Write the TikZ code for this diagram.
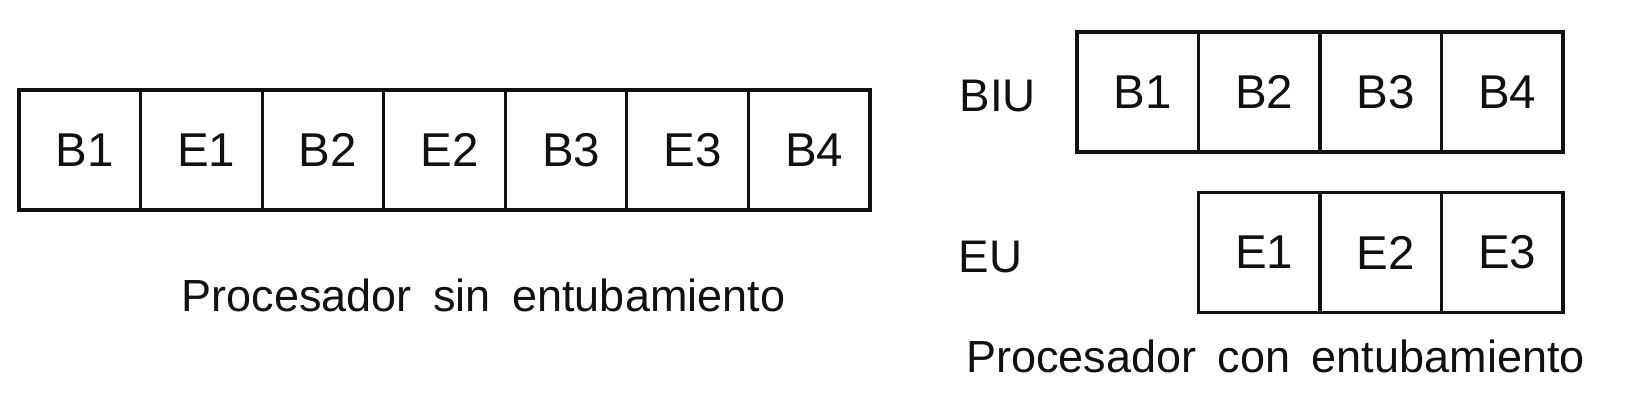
\documentclass[tikz,border=0pt]{standalone}
\usepackage{tikz}
\usetikzlibrary{positioning,calc}
\usepackage{fontspec}
\setmainfont{Liberation Sans}
\usepackage{xcolor}
\definecolor{pipeInk}{HTML}{111111}
\tikzset{
  celda/.style={draw=pipeInk, line width=0.9pt, minimum width=1.2157cm, minimum height=1.2cm, inner sep=0pt, font=\fontsize{13.5}{16}\selectfont, text=pipeInk, execute at begin node=\hspace*{0.1cm}},
  unidad/.style={anchor=west, inner sep=0pt, font=\fontsize{13}{16}\selectfont, text=pipeInk},
  titulo/.style={anchor=base, inner sep=0pt, font=\fontsize{12.8}{15}\selectfont, text=pipeInk},
}

\begin{document}
\begin{tikzpicture}[x=0.01cm,y=0.01cm]
        \useasboundingbox (0,0) rectangle (1635,413);
        % sin entubamiento: una sola fila
        \foreach \i/\lbl in {1/B1, 2/E1, 3/B2, 4/E2, 5/B3, 6/E3, 7/B4} {
            \node[celda] (s\i) at (19+121.57*\i-60.79,263) {\lbl};
        }
        \node[titulo] (tsin) at (483.5,101) {Procesador\hspace{0.2em} sin\hspace{0.2em} entubamiento};
        % con entubamiento: BIU y EU
        \node[unidad] (biu) at (959,316.5) {BIU};
        \node[unidad] (eu) at (958,156) {EU};
        \foreach \i in {1,...,4} {
            \node[celda] (b\i) at (1077+121.5*\i-60.75,321) {B\i};
        }
        \foreach \i in {1,...,3} {
            \node[celda] (e\i) at (1198.5+121.5*\i-60.75,160.5) {E\i};
        }
        \node[titulo] (tcon) at (1275.5,40) {Procesador\hspace{0.2em} con\hspace{0.2em} entubamiento};
    \end{tikzpicture}
\end{document}
